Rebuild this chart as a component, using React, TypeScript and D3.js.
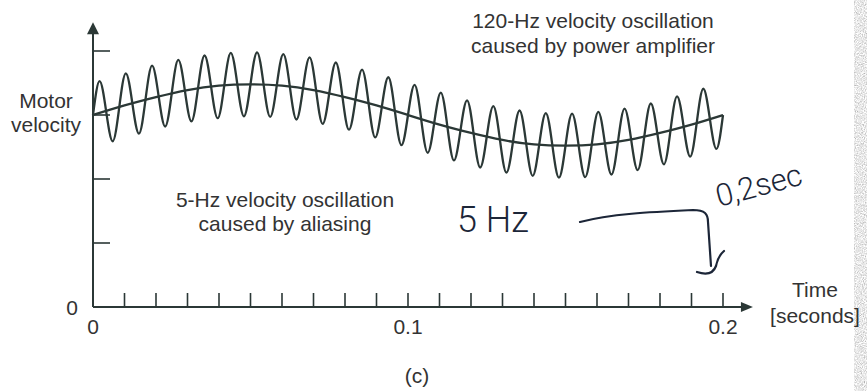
import { useEffect, useRef } from 'react';
import * as d3 from 'd3';

// 5-Hz aliased velocity (the slow curve), read every 0.01 s
const slowTimes = [0, 0.01, 0.02, 0.03, 0.04, 0.05, 0.06, 0.07, 0.08, 0.09, 0.1,
  0.11, 0.12, 0.13, 0.14, 0.15, 0.16, 0.17, 0.18, 0.19, 0.2];
const slowValues = [3.0, 3.15, 3.28, 3.39, 3.46, 3.48, 3.46, 3.39, 3.28, 3.15, 3.0,
  2.85, 2.72, 2.61, 2.54, 2.52, 2.54, 2.61, 2.72, 2.85, 3.0];

// 120-Hz oscillation: one peak and one trough per cycle, 24 cycles
const fastPeriod = 1 / 120;
const fastStart = 3.0;
const fastEnd = 3.0;
const fastPeaks = [3.53, 3.65, 3.77, 3.86, 3.93, 3.97, 3.98, 3.95, 3.9, 3.82, 3.71, 3.59,
  3.47, 3.35, 3.23, 3.14, 3.07, 3.03, 3.02, 3.05, 3.1, 3.18, 3.29, 3.41];
const fastTroughs = [2.59, 2.71, 2.82, 2.9, 2.95, 2.98, 2.97, 2.93, 2.86, 2.77, 2.65, 2.53,
  2.41, 2.29, 2.18, 2.1, 2.05, 2.02, 2.03, 2.07, 2.14, 2.23, 2.35, 2.47];

const xTickStep = 0.01;
const xLabels = [0, 0.1, 0.2];
const yTicks = [1, 2, 3, 4];

const ink = '#2b3836';
const textInk = '#333333';
const pen = '#1c2638';

export default function App() {
  const svgRef = useRef<SVGSVGElement>(null);

  useEffect(() => {
    if (!svgRef.current) return;
    const svg = d3.select(svgRef.current);
    svg.selectAll('*').remove();

    const x = d3.scaleLinear().domain([0, 0.2]).range([93, 723]);
    const y = d3.scaleLinear().domain([0, 4]).range([307, 51]);
    const xArrow = 0.2095;
    const yArrow = 4.45;

    const defs = svg.append('defs');
    const f = defs.append('filter').attr('id', 'scan').attr('x', 0).attr('y', 0)
      .attr('width', '100%').attr('height', '100%');
    f.append('feTurbulence').attr('type', 'fractalNoise').attr('baseFrequency', 0.9)
      .attr('numOctaves', 2).attr('seed', 4);
    f.append('feColorMatrix').attr('type', 'matrix')
      .attr('values', '0 0 0 0 0.45  0 0 0 0 0.45  0 0 0 0 0.45  -1.2 -1.2 0 0 1.5');
    f.append('feComposite').attr('in2', 'SourceGraphic').attr('operator', 'in');

    svg.append('rect').attr('x', 854).attr('y', 0).attr('width', 13).attr('height', 391)
      .attr('fill', '#000').attr('filter', 'url(#scan)');

    const g = svg.append('g');

    // axes
    g.append('line')
      .attr('x1', x(0)).attr('x2', x(xArrow) - 10).attr('y1', y(0)).attr('y2', y(0))
      .attr('stroke', ink).attr('stroke-width', 2);
    g.append('path')
      .attr('d', `M${x(xArrow)},${y(0)} L${x(xArrow) - 12},${y(0) - 5} L${x(xArrow) - 12},${y(0) + 5} Z`)
      .attr('fill', ink);
    g.append('line')
      .attr('x1', x(0)).attr('x2', x(0)).attr('y1', y(0)).attr('y2', y(yArrow) + 10)
      .attr('stroke', ink).attr('stroke-width', 2);
    g.append('path')
      .attr('d', `M${x(0)},${y(yArrow)} L${x(0) - 6},${y(yArrow) + 12} L${x(0) + 6},${y(yArrow) + 12} Z`)
      .attr('fill', ink);

    const xTicks = d3.range(1, 21).map(i => i * xTickStep);
    g.selectAll('.xt').data(xTicks).join('line')
      .attr('x1', d => x(d)).attr('x2', d => x(d))
      .attr('y1', y(0)).attr('y2', y(0) - 14)
      .attr('stroke', ink).attr('stroke-width', 1.6);

    g.selectAll('.yt').data(yTicks).join('line')
      .attr('x1', x(0)).attr('x2', x(0) + 17)
      .attr('y1', d => y(d)).attr('y2', d => y(d))
      .attr('stroke', ink).attr('stroke-width', 1.6);

    const labelStyle = (sel: d3.Selection<SVGTextElement, any, any, any>) =>
      sel.attr('font-family', '"Liberation Sans", Arial, sans-serif')
        .attr('font-size', 21).attr('fill', textInk);

    g.selectAll('.xl').data(xLabels).join('text')
      .attr('x', d => x(d)).attr('y', 334).attr('text-anchor', 'middle')
      .call(labelStyle)
      .text(d => d === 0 ? '0' : d3.format('.1f')(d));

    g.append('text').attr('x', 72).attr('y', y(0) + 8).attr('text-anchor', 'middle')
      .call(labelStyle).text('0');

    // waves
    const slowData = slowTimes.map((t, i) => [t, slowValues[i]] as [number, number]);
    const fastData: [number, number][] = [[0, fastStart]];
    fastPeaks.forEach((p, i) => {
      fastData.push([(i + 0.25) * fastPeriod, p]);
      fastData.push([(i + 0.75) * fastPeriod, fastTroughs[i]]);
    });
    fastData.push([0.2, fastEnd]);

    const line = d3.line<[number, number]>().x(d => x(d[0])).y(d => y(d[1]));
    g.append('path').datum(slowData).attr('d', line.curve(d3.curveNatural))
      .attr('fill', 'none').attr('stroke', ink).attr('stroke-width', 2.3);
    g.append('path').datum(fastData).attr('d', line.curve(d3.curveMonotoneX))
      .attr('fill', 'none').attr('stroke', ink).attr('stroke-width', 2.3);

    // labels
    const multi = (lines: string[], cx: number, base: number, gap: number) => {
      lines.forEach((s, i) => {
        g.append('text').attr('x', cx).attr('y', base + i * gap).attr('text-anchor', 'middle')
          .call(labelStyle).text(s);
      });
    };
    multi(['Motor', 'velocity'], 46, 108, 24);
    multi(['120-Hz velocity oscillation', 'caused by power amplifier'], 593, 28, 25);
    multi(['5-Hz velocity oscillation', 'caused by aliasing'], 285, 207, 24);
    multi(['Time', '[seconds]'], 815, 297, 26);
    multi(['(c)'], 417, 383, 0);

    // handwritten notes
    g.append('text').attr('x', 457).attr('y', 232)
      .attr('font-family', 'Roboto, "DejaVu Sans", sans-serif').attr('font-weight', 300)
      .attr('font-size', 36).attr('fill', pen).text('5 Hz');
    g.append('text').attr('transform', 'translate(719,207) rotate(-15)')
      .attr('font-family', 'Roboto, "DejaVu Sans", sans-serif').attr('font-weight', 300)
      .attr('font-size', 31).attr('fill', pen).text('0,2sec');
    g.append('path')
      .attr('d', 'M580,222 C610,214 650,212 693,210 C705,210 708,214 708,222 L711,266')
      .attr('fill', 'none').attr('stroke', pen).attr('stroke-width', 2.2).attr('stroke-linecap', 'round');
    g.append('path')
      .attr('d', 'M697,272 Q712,277 716,266 Q718,256 724,251')
      .attr('fill', 'none').attr('stroke', pen).attr('stroke-width', 2.2).attr('stroke-linecap', 'round');
  }, []);

  return (
    <svg ref={svgRef} width={867} height={391}
      style={{ position: 'absolute', left: 0, top: 0, background: '#ffffff' }} />
  );
}
